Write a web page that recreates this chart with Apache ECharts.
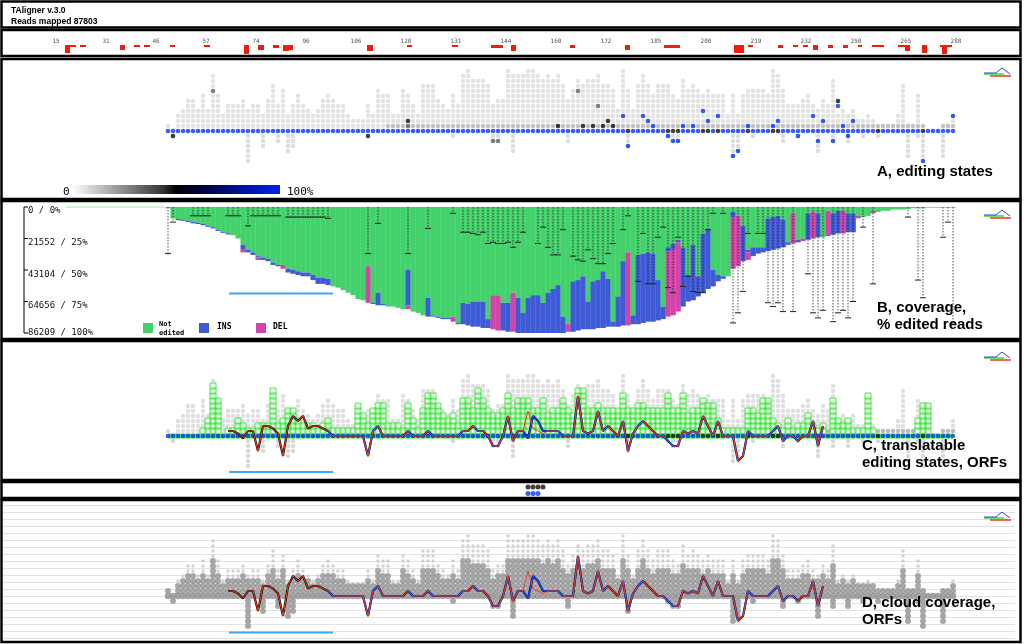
<!DOCTYPE html>
<html><head><meta charset="utf-8">
<script src="https://cdn.jsdelivr.net/npm/echarts@6/dist/echarts.min.js"></script>
<style>html,body{margin:0;padding:0;background:#fff}#c{width:1024px;height:644px}</style>
</head><body><div id="c"></div>
<script>
const N = 158;
// ruler
const rulerTickPos = [-22.4,-12.4,-2.4,7.6,17.6,27.6,37.6,47.6,57.6,67.6,77.6,87.6,97.6,107.6,117.6,127.6,137.6,147.6,157.6];
const rulerTickLabels = ['15','31','46','57','74','96','106','120','131','144','160','172','185','200','219','232','250','265','288'];
const rulerMarks = [[-20.6,-19.6,8],[-19.6,-18.4,2],[-17.6,-16.4,2],[-9.6,-8.6,5],[-6.8,-5.6,2],[-4.8,-3.6,2],[0.4,1.4,2],[7.2,8.4,2],[15.2,16.2,9],[18,19.2,5],[21,22.2,3],[23,24.2,6],[24.2,25,5],[39.8,41,6],[47.8,48.8,2],[56.8,58,2],[64.6,67,3],[68.6,69.6,6],[80.4,81.4,3],[91.4,92.4,5],[99.2,102.4,3],[113.2,115.2,8],[116,117,2],[122,123,3],[125,126,2],[127,128,2],[129,130,5],[132,133,3],[135,136,3],[138,138.8,2],[140.8,143.2,2],[146,147.4,2],[147.4,148.4,6],[150.8,151.8,8],[154.4,156.8,2],[154.8,155.8,9]];
// A: editing states (rows of dots above / below baseline)
const aboveA = [1,0,3,4,6,6,4,7,4,11, 7,3,5,5,5,6,4,5,5,3, 6,9,5,8,3,5,7,5,4,3, 4,6,7,6,5,5,3,2,2,2,
 5,3,8,7,7,3,3,8,7,5, 3,9,9,9,6,5,4,7,5,11, 12,10,10,10,9,5,6,6,12,11, 11,11,12,12,11,10,11,10,11,9,
 6,8,10,9,10,10,11,9,9,8, 4,12,8,4,9,11,9,7,9,9, 9,7,6,10,8,9,8,7,8,7, 7,7,3,7,3,7,8,8,8,8,
 7,12,11,8,5,5,5,6,7,5, 4,6,5,10,3,4,3,4,2,2, 3,2,1,1,1,1,3,9,1,1, 7,1,0,0,0,1,1,3];
const belowA = [[1,1],[16,6],[19,3],[22,2],[24,4],[25,3],[57,1],[65,2],[66,2],[69,4],[80,2],[92,3],[100,1],[101,2],[102,2],[113,5],[114,4],[117,1],[123,2],[126,1],[130,4],[133,2],[136,2],[139,1],[142,1],[148,5],[150,1],[151,6],[155,5]];
const specialA = [[1,-1,'k'],[40,-1,'k'],[48,2,'k'],[48,1,'g'],[65,-2,'g'],[66,-2,'g'],[9,8,'g'],[78,1,'k'],[83,1,'k'],[85,1,'k'],[87,1,'k'],[88,2,'k'],[89,1,'k'],[82,8,'g'],[86,5,'g'],[134,6,'k'],
 [91,3,'b'],[95,3,'b'],[96,2,'b'],[97,1,'b'],[103,1,'b'],[105,1,'b'],[107,4,'b'],[108,2,'b'],[110,3,'b'],[116,1,'b'],[121,1,'b'],[122,2,'b'],[129,3,'b'],[131,2,'b'],[134,5,'b'],[135,1,'b'],[137,2,'b'],[157,3,'b'],
 [92,-3,'b'],[100,-1,'b'],[101,-2,'b'],[102,-2,'b'],[113,-5,'b'],[114,-4,'b'],[126,-1,'b'],[130,-2,'b'],[133,-2,'b'],[136,-1,'b'],[151,-6,'b']];
const baseBlackA = [92,100,101,102,107,108,110,116,121,122,142,151];
// B: coverage, % edited reads
const coverage = [1,9,10.5,11,12,13,13.5,14.5,15.8,17, 19,20.5,21.8,22.4,25,36,36,38,42,42, 43,46,47,49,52,53,54,55,55,58,
 61,61,62,63,64,66,68,70,73,74, 76,77,78,78,79,79,80,81,81,83, 84,86,87,87,88,89,89,91,93,93, 94,95,95,96,96,97,98,98,99,99,
 100,100,100,100,100,100,100,100,100,100, 99,99,98,97,97,97,96,96,95,95, 95,94,94,93,93,92,91,91,90,89, 87,86,83,79,75,74,71,68,65,63,
 59,57,55,49,47,43,42,39,37,36, 35,34,33,32,30,29,28,27,26,25, 24,24,23,22,21,21,20,20,9,8, 7,5,4,3,3,2,2,2,1.5,1, 1,1,0.5,0.5,0.5,0.5,0.5,0.5];
const insPct = [[2,1],[3,1],[4,1],[5,1],[6,1],[7,1],[8,1],[9,1],[10,1],[11,1],[12,1],[15,4],[16,2],[17,2],[18,1],[19,2],[20,2],[21,2],[22,1],[24,3],[25,3],[26,3],[27,3],[28,3],[29,4],[30,5],[31,5],[32,5],[41,1],[42,10],[43,1],[48,28],[52,15],[53,1],[54,1],[55,1],[56,1],[58,1],[59,17],[60,17],[61,20],[62,20],[63,21],[64,7],[67,22],[68,23],[70,28],[71,16],[72,28],[73,30],[74,30],[75,24],[76,32],[77,35],[78,38],[79,13],[81,40],[82,40],[83,42],[84,22],[85,38],[86,38],[87,45],[88,38],[89,4],[90,24],[91,51],[93,7],[94,55],[95,55],[96,55],[97,54],[98,32],[99,10],[100,3],[101,5],[102,2],[103,47],[104,21],[105,44],[106,16],[107,47],[108,47],[109,13],[110,5],[111,2],[113,4],[115,28],[116,2],[117,7],[118,5],[119,4],[120,26],[121,26],[122,26],[123,22],[124,2],[126,2],[128,21],[130,19],[133,17],[134,18],[136,15],[137,15]];
const delPct = [[15,2],[18,2],[23,3],[40,29],[48,3],[57,4],[65,27],[66,28],[69,31],[80,6],[92,58],[100,52],[101,52],[102,55],[113,41],[114,40],[116,6],[125,24],[127,2],[129,21],[132,20],[135,18],[138,2],[141,2]];
const whiskers = [[0,37],[1,12],[5,7],[6,7],[7,7],[8,7],[12,7],[13,7],[14,7],[16,15],[17,7],[18,7],[19,7],[20,7],[21,7],[22,7],[24,8],[25,8],[26,8],[27,8],[28,8],[29,8],[30,8],[31,8],[32,9],[40,37],[42,13],[48,37],[52,17],[57,5],[59,20],[60,20],[61,21],[62,22],[63,20],[64,29],[65,28],[66,29],[67,29],[68,28],
 [69,32],[70,28],[71,20],[74,29],[75,16],[76,32],[77,38],[78,38],[79,18],[81,39],[82,42],[83,43],[84,34],[85,41],[86,45],[87,45],[88,37],[89,29],[91,18],[92,7],[94,59],[95,21],[96,61],[97,61],[98,24],[99,16],[100,64],[101,68],[102,24],[103,63],[104,55],[105,67],[106,68],[107,68],[108,18],[109,5],[111,5],
 [113,92],[114,84],[115,67],[116,21],[118,21],[119,21],[120,76],[121,79],[122,76],[123,83],[125,83],[128,53],[129,84],[130,88],[131,82],[133,91],[134,84],[135,82],[136,88],[137,75],[139,16],[141,61],[148,8],[150,58],[151,72],[155,24],[156,12],[157,92]];
const bTickLabels = ['0 / 0%','21552 / 25%','43104 / 50%','64656 / 75%','86209 / 100%'];
// C: translatable editing states
const greenC = [0,0,0,0,0,0,0,1,3,10, 7,0,1,1,3,2,1,1,2,2, 2,9,2,3,5,5,3,2,2,2, 1,2,3,1,1,1,1,1,6,4,
 2,5,6,6,2,2,2,1,6,3, 1,5,8,8,6,4,3,4,2,7, 7,5,9,7,5,4,4,5,8,5, 7,7,7,5,5,7,4,5,5,7,
 5,4,9,9,5,5,6,5,5,5, 5,8,5,5,6,6,5,5,5,5, 8,5,5,8,4,5,5,7,6,6, 3,1,1,1,1,1,5,5,4,7,
 7,3,2,1,3,1,2,2,4,2, 1,2,0,7,3,2,3,1,1,1, 8,1,0,0,0,0,0,0,0,0, 3,6,6,0,0,0,0,0];
// ORF line (rows from baseline), positions 12..131
const orfStart = 12;
const orfBlack = [1,1,0.5,-0.5,1,1,-3,2,2,1.5, 0.5,-4,2,4,3,4,1.5,2,2,1.5, 1,0,0,0,0,0,0,0,-4,1,
 2,0,0,0,0,0,1,0,0,0, 1,0,0,0,0,0,0,1,1,2, 1,1,0,-2,-2,0,4,-1,1,1, -0.5,4,3,1,1,1,1,0,0,0,
 8,1,0.5,1,5,1,2,1,0,3, -3,0.5,2,3,2,1,0,0,-1,-2, -2,1,0.5,1,0.5,4,2,0,3,0, 0,0,-5,-4,1,0,0,0,0,1, 2,-1,0,0,-1,0,0,3,-2,2];
const orfRedDiff = [[72,5],[73,1.5],[74,1],[75,0.5]];
const orfBlueFrom = 32;
const stripBlack = [72,73,74,75];
const stripBlue = [72,73,74];

const col = {b:'#0a35ff', k:'#111', g:'#666'};
function xAx(gi){return {gridIndex:gi,type:'value',min:-1,max:160,show:false};}
function yAx(gi,min,max,extra){return Object.assign({gridIndex:gi,type:'value',min:min,max:max,show:false},extra||{});}

const aGray=[], aBelow=[], aSpec=[], aBase=[];
for(let i=0;i<N;i++){
  for(let r=1;r<=aboveA[i];r++) aGray.push({value:[i,r],itemStyle:{color:(r===1&&i>=44)?'#b3b3b3':'#dcdcdc'}});
  aBase.push({value:[i,0],itemStyle:{color:baseBlackA.includes(i)?'#111':col.b}});
}
belowA.forEach(([i,n])=>{for(let r=1;r<=n;r++) aBelow.push([i,-r]);});
specialA.forEach(([i,r,c])=>aSpec.push({value:[i,r],itemStyle:{color:col[c]}}));

const insMap={}, delMap={};
insPct.forEach(([i,v])=>insMap[i]=v); delPct.forEach(([i,v])=>delMap[i]=v);
const bData=[];
for(let i=0;i<N;i++){const ins=insMap[i]||0, del=delMap[i]||0; bData.push([i,coverage[i]-ins-del,ins,del]);}

const cSq=[], cGray=[], cBase=[], cGreenBand=[];
for(let i=0;i<N;i++){
  for(let r=1;r<=greenC[i];r++) cSq.push([i,r]);
  for(let r=greenC[i]+1;r<=aboveA[i];r++) cGray.push({value:[i,r],itemStyle:{color:(r===1&&i>=44)?'#a8a8a8':'#d8d8d8'}});
  cBase.push({value:[i,0],itemStyle:{color:baseBlackA.includes(i)?'#111':col.b}});
  cGreenBand.push([i,0]);
}
const lineBlack=[], lineRed=[], lineBlue=[];
const redMap={}; orfRedDiff.forEach(([i,v])=>redMap[i]=v);
orfBlack.forEach((v,k)=>{const i=orfStart+k; lineBlack.push([i,v]); lineRed.push([i,redMap[i]!==undefined?redMap[i]:v]); if(i>=orfBlueFrom) lineBlue.push([i,v]);});

const dBig=[], dSmall=[], dBase=[], dBelow=[];
for(let i=0;i<N;i++){
  const h=aboveA[i];
  for(let r=1;r<=h;r++){ if(r<=Math.ceil(h*0.55)) dBig.push([i,r]); else dSmall.push([i,r]); }
  dBase.push([i,0]);
}
belowA.forEach(([i,n])=>{for(let r=1;r<=n;r++) dBelow.push([i,-r]);});

const grids=[
 {left:0,width:1024,top:37,height:20},
 {left:163,width:805,top:61,height:110},
 {left:163,width:805,top:207,height:126},
 {left:163,width:805,top:346,height:130},
 {left:163,width:805,top:484,height:12},
 {left:163,width:805,top:505,height:133},
 {left:3,right:9,top:505,height:133}
];
const xAxes=[{gridIndex:0,type:'value',min:-33.6,max:171.2,show:false},xAx(1),xAx(2),xAx(3),xAx(4),xAx(5),{gridIndex:6,type:'value',min:0,max:1,show:false}];
const yAxes=[
 yAx(0,-8,12,{inverse:true}),
 yAx(1,-8,14),
 {gridIndex:2,type:'value',min:0,max:100,interval:25,inverse:true,axisLine:{show:false},axisTick:{show:false},splitLine:{show:false},
  axisLabel:{margin:135,align:'left',fontFamily:'DejaVu Sans Mono',fontSize:9,color:'#111',
   formatter:v=>v===0?'{a|'+bTickLabels[0]+'}':(v===100?bTickLabels[4]:'{b|'+bTickLabels[v/25]+'}'),
   rich:{a:{padding:[7,0,0,0],fontFamily:'DejaVu Sans Mono',fontSize:9,color:'#111'},b:{padding:[9,0,0,0],fontFamily:'DejaVu Sans Mono',fontSize:9,color:'#111'}}}},
 yAx(3,-8,18),
 yAx(4,0,12,{inverse:true}),
 yAx(5,-8.4,18.2),
 {gridIndex:6,type:'value',min:-8.4,max:18.2,interval:1.4,axisLine:{show:false},axisTick:{show:false},axisLabel:{show:false},splitLine:{show:true,lineStyle:{color:'#e2e2e2',width:1}}}
];
function sc(gi,data,size,color,extra){return Object.assign({type:'scatter',xAxisIndex:gi,yAxisIndex:gi,data:data,symbolSize:size,itemStyle:{color:color},silent:true,animation:false},extra||{});}
function ln(gi,data,color,w,z){return {type:'line',xAxisIndex:gi,yAxisIndex:gi,data:data,symbol:'none',lineStyle:{color:color,width:w},z:z,animation:false,silent:true};}

const series=[
 {type:'custom',xAxisIndex:0,yAxisIndex:0,data:rulerMarks,animation:false,
  renderItem:(p,api)=>{const a=api.coord([api.value(0),0]),b=api.coord([api.value(1),api.value(2)]);return {type:'rect',shape:{x:a[0],y:a[1],width:b[0]-a[0],height:b[1]-a[1]},style:{fill:'#f41c06'}};}},
 sc(0,rulerTickPos.map((p,k)=>({value:[p,-3.5],name:rulerTickLabels[k]})),1,'rgba(0,0,0,0)',{label:{show:true,position:'inside',formatter:d=>d.name,fontSize:6,fontFamily:'DejaVu Sans Mono',color:'#222'}}),
 sc(1,aGray,4.5,'#ddd'),
 sc(1,aBelow,4.5,'#d6d6d6'),
 sc(1,aBase,4.6,col.b),
 sc(1,aSpec,4.6,'#111',{z:5}),
 {type:'custom',xAxisIndex:2,yAxisIndex:2,data:bData,animation:false,
  renderItem:(p,api)=>{const i=api.value(0),g=api.value(1),n=api.value(2),d=api.value(3);
   const p0=api.coord([i-0.5,0]),p1=api.coord([i+0.5,g]),p2=api.coord([i+0.5,g+n]),p3=api.coord([i+0.5,g+n+d]);
   const w=p1[0]-p0[0]+0.3;
   return {type:'group',children:[
    {type:'rect',shape:{x:p0[0],y:p0[1],width:w,height:p1[1]-p0[1]},style:{fill:'#43d16b'}},
    {type:'rect',shape:{x:p0[0],y:p1[1],width:w,height:p2[1]-p1[1]},style:{fill:'#3f5ad6'}},
    {type:'rect',shape:{x:p0[0],y:p2[1],width:w,height:p3[1]-p2[1]},style:{fill:'#d543a8'}}]};}},
 {type:'custom',xAxisIndex:2,yAxisIndex:2,data:whiskers,z:6,animation:false,
  renderItem:(p,api)=>{const a=api.coord([api.value(0),0]),b=api.coord([api.value(0),api.value(1)]);return {type:'group',children:[
   {type:'line',shape:{x1:a[0],y1:a[1],x2:b[0],y2:b[1]},style:{stroke:'#222',lineWidth:0.8,lineDash:[1.5,1.5]}},
   {type:'line',shape:{x1:b[0]-3,y1:b[1],x2:b[0]+3,y2:b[1]},style:{stroke:'#222',lineWidth:1}}]};}},
 ln(3,cGreenBand,'#3cf03c',5,1),
 sc(3,cGray,4.5,'#d8d8d8'),
 sc(3,aBelow,4.5,'#d0d0d0'),
 sc(3,cSq,6,'rgba(150,245,150,0.3)',{symbol:'rect',itemStyle:{color:'rgba(150,245,150,0.3)',borderColor:'#2fe02f',borderWidth:1}}),
 sc(3,cBase,4.6,col.b,{z:3}),
 ln(3,lineBlack,'#111',2.2,4),
 ln(3,lineBlue,'#1f3fe0',1.6,5),
 ln(3,lineRed,'#ee3a1a',1,6),
 sc(4,stripBlack.map(i=>[i,3]),5,'#111'),
 sc(4,stripBlue.map(i=>[i,9.5]),5,col.b),
 sc(5,dSmall,3.5,'#c8c8c8'),
 sc(5,dBig,6,'#929292'),
 sc(5,dBelow,6,'#929292'),
 sc(5,dBase,6.5,'#8e8e8e'),
 ln(5,lineBlack,'#111',2.2,4),
 ln(5,lineBlue,'#1f3fe0',1.6,5),
 ln(5,lineRed,'#ee3a1a',1,6)
];

function box(y,h){return {type:'rect',shape:{x:1.5,y:y,width:1019,height:h},style:{fill:null,stroke:'#000',lineWidth:2.5},z:100};}
function txt(x,y,t,font,extra){return Object.assign({type:'text',x:x,y:y,style:{text:t,font:font,fill:'#000'},z:101},extra||{});}
function icon(y){return [
 {type:'polyline',shape:{points:[[984,y+6],[1004,y+6]]},style:{stroke:'#33dd33',lineWidth:1.5},z:101},
 {type:'polyline',shape:{points:[[990,y+8],[1011,y+8]]},style:{stroke:'#ee3322',lineWidth:1.5},z:101},
 {type:'polyline',shape:{points:[[984,y+5],[996,y+5],[1002,y],[1010,y+6]]},style:{stroke:'#2244ee',lineWidth:1},z:101}];}
const TF='bold 15px "Liberation Sans", Arial, sans-serif';
const graphics=[
 box(1.5,26),box(30,26),box(59,140),box(201,138),box(341,139),box(482,16),box(500,142),
 txt(11,6,'TAligner v.3.0','bold 8.5px "Liberation Sans", Arial'),
 txt(11,17,'Reads mapped 87803','bold 8.5px "Liberation Sans", Arial'),
 {type:'rect',shape:{x:72,y:185,width:208,height:9},style:{fill:new echarts.graphic.LinearGradient(0,0,1,0,[{offset:0,color:'#ffffff'},{offset:0.44,color:'#333'},{offset:0.5,color:'#000'},{offset:0.62,color:'#000040'},{offset:1,color:'#0022ee'}])},z:101},
 txt(63,187,'0','11px "DejaVu Sans Mono"'),
 txt(287,187,'100%','11px "DejaVu Sans Mono"'),
 txt(877,164,'A, editing states',TF),
 txt(877,300,'B, coverage,',TF), txt(877,317,'% edited reads',TF),
 txt(862,438,'C, translatable',TF), txt(862,455,'editing states, ORFs',TF),
 txt(862,595,'D, cloud coverage,',TF), txt(862,612,'ORFs',TF),
 {type:'polyline',shape:{points:[[28,207],[24,207],[24,333],[28,333]]},style:{stroke:'#000',lineWidth:1},z:101},
 {type:'line',shape:{x1:24,y1:238.5,x2:28,y2:238.5},style:{stroke:'#000'},z:101},
 {type:'line',shape:{x1:24,y1:270,x2:28,y2:270},style:{stroke:'#000'},z:101},
 {type:'line',shape:{x1:24,y1:301.5,x2:28,y2:301.5},style:{stroke:'#000'},z:101},
 {type:'line',shape:{x1:66,y1:207,x2:165,y2:207},style:{stroke:'#b8f0c4',lineWidth:1.5},z:101},
 {type:'rect',shape:{x:143,y:323,width:10,height:10},style:{fill:'#43d16b'},z:101},
 txt(159,321,'Not','bold 7px "DejaVu Sans Mono"'), txt(159,330,'edited','bold 7px "DejaVu Sans Mono"'),
 {type:'rect',shape:{x:199,y:323,width:10,height:10},style:{fill:'#3f5ad6'},z:101},
 txt(217,323,'INS','bold 8px "DejaVu Sans Mono"'),
 {type:'rect',shape:{x:256,y:323,width:10,height:10},style:{fill:'#d543a8'},z:101},
 txt(273,323,'DEL','bold 8px "DejaVu Sans Mono"'),
 {type:'line',shape:{x1:229,y1:293.5,x2:333,y2:293.5},style:{stroke:'#3aa8ff',lineWidth:2},z:101},
 {type:'line',shape:{x1:229,y1:472,x2:333,y2:472},style:{stroke:'#3aa8ff',lineWidth:2},z:101},
 {type:'line',shape:{x1:229,y1:632.5,x2:333,y2:632.5},style:{stroke:'#3aa8ff',lineWidth:2},z:101},
 ...icon(68),...icon(210),...icon(352),...icon(512)
];
const chart=echarts.init(document.getElementById('c'),null,{renderer:'canvas'});
chart.setOption({animation:false,grid:grids,xAxis:xAxes,yAxis:yAxes,series:series,graphic:graphics});
</script></body></html>
